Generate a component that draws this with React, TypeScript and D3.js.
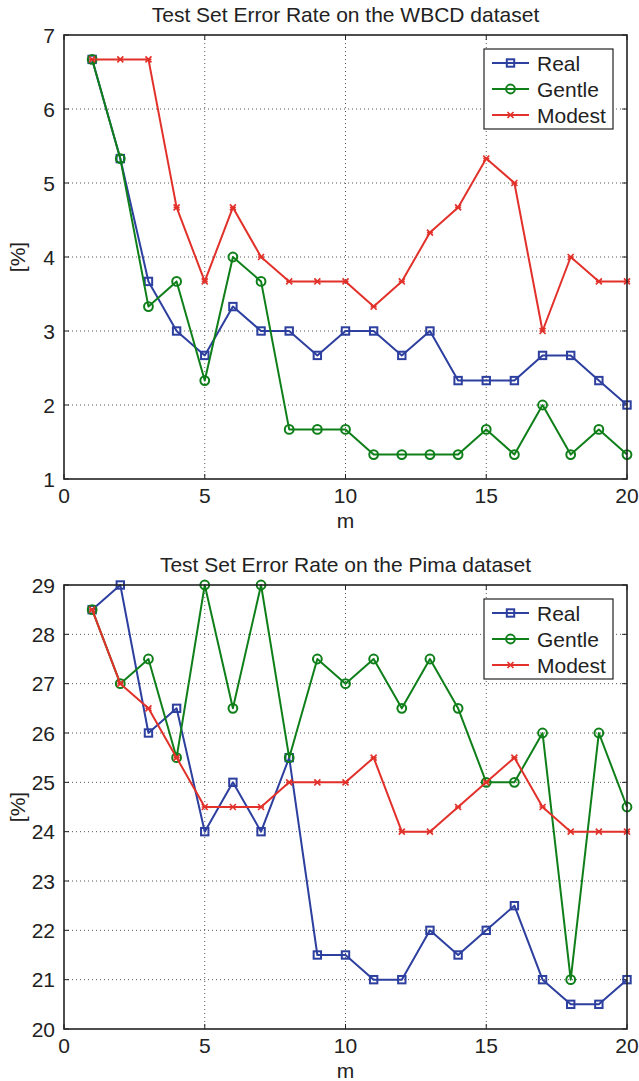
import React from "react";
import * as d3 from "d3";

const mValues = d3.range(1, 21);
const xTicks = [0, 5, 10, 15, 20];

const wbcdReal = [6.67, 5.33, 3.67, 3.0, 2.67, 3.33, 3.0, 3.0, 2.67, 3.0, 3.0, 2.67, 3.0, 2.33, 2.33, 2.33, 2.67, 2.67, 2.33, 2.0];
const wbcdGentle = [6.67, 5.33, 3.33, 3.67, 2.33, 4.0, 3.67, 1.67, 1.67, 1.67, 1.33, 1.33, 1.33, 1.33, 1.67, 1.33, 2.0, 1.33, 1.67, 1.33];
const wbcdModest = [6.67, 6.67, 6.67, 4.67, 3.67, 4.67, 4.0, 3.67, 3.67, 3.67, 3.33, 3.67, 4.33, 4.67, 5.33, 5.0, 3.0, 4.0, 3.67, 3.67];
const wbcdYTicks = [1, 2, 3, 4, 5, 6, 7];

const pimaReal = [28.5, 29, 26, 26.5, 24, 25, 24, 25.5, 21.5, 21.5, 21, 21, 22, 21.5, 22, 22.5, 21, 20.5, 20.5, 21];
const pimaGentle = [28.5, 27, 27.5, 25.5, 29, 26.5, 29, 25.5, 27.5, 27, 27.5, 26.5, 27.5, 26.5, 25, 25, 26, 21, 26, 24.5];
const pimaModest = [28.5, 27, 26.5, 25.5, 24.5, 24.5, 24.5, 25, 25, 25, 25.5, 24, 24, 24.5, 25, 25.5, 24.5, 24, 24, 24];
const pimaYTicks = [20, 21, 22, 23, 24, 25, 26, 27, 28, 29];

const seriesNames = ["Real", "Gentle", "Modest"];
const colors = ["#2d3f9f", "#0f7f1a", "#e2312a"];
const markers = ["square", "circle", "x"];

const FONT = "'Liberation Sans', Arial, Helvetica, sans-serif";
const FS = 21;

function Marker({ type, x, y, color }: { type: string; x: number; y: number; color: string }) {
  if (type === "square") {
    return <rect x={x - 3.7} y={y - 3.7} width={7.4} height={7.4} fill="none" stroke={color} strokeWidth={2} />;
  }
  if (type === "circle") {
    return <circle cx={x} cy={y} r={4.4} fill="none" stroke={color} strokeWidth={2} />;
  }
  const s = 3;
  return (
    <g stroke={color} strokeWidth={1.6}>
      <line x1={x - s} y1={y - s} x2={x + s} y2={y + s} />
      <line x1={x - s} y1={y + s} x2={x + s} y2={y - s} />
      <line x1={x - s} y1={y} x2={x + s} y2={y} />
    </g>
  );
}

function Panel({ top, title, yDomain, yTicks, data }: { top: number; title: string; yDomain: [number, number]; yTicks: number[]; data: number[][] }) {
  const left = 64, right = 627;
  const plotTop = top, plotBottom = top + 444;
  const x = d3.scaleLinear().domain([0, 20]).range([left, right]);
  const y = d3.scaleLinear().domain(yDomain).range([plotBottom, plotTop]);
  const line = d3.line<number>().x((_, i) => x(mValues[i])).y((d) => y(d));
  const lx = 484, ly = plotTop + 14, lw = 129, lh = 80;
  return (
    <g fontFamily={FONT}>
      <text x={345.5} y={plotTop - 13.5} textAnchor="middle" fontSize={FS} fill="#222">{title}</text>
      {/* grid */}
      {xTicks.slice(1, -1).map((t) => (
        <line key={"gx" + t} x1={x(t)} x2={x(t)} y1={plotTop} y2={plotBottom} stroke="#555" strokeWidth={1} strokeDasharray="1,3" />
      ))}
      {yTicks.slice(1, -1).map((t) => (
        <line key={"gy" + t} x1={left} x2={right} y1={y(t)} y2={y(t)} stroke="#555" strokeWidth={1} strokeDasharray="1,3" />
      ))}
      {/* ticks */}
      {xTicks.map((t) => (
        <g key={"tx" + t}>
          <line x1={x(t)} x2={x(t)} y1={plotBottom} y2={plotBottom - 5} stroke="#222" />
          <line x1={x(t)} x2={x(t)} y1={plotTop} y2={plotTop + 5} stroke="#222" />
          <text x={x(t)} y={plotBottom + 24} textAnchor="middle" fontSize={FS} fill="#222">{t}</text>
        </g>
      ))}
      {yTicks.map((t) => (
        <g key={"ty" + t}>
          <line x1={left} x2={left + 5} y1={y(t)} y2={y(t)} stroke="#222" />
          <line x1={right} x2={right - 5} y1={y(t)} y2={y(t)} stroke="#222" />
          <text x={left - 9} y={y(t) + 7.5} textAnchor="end" fontSize={FS} fill="#222">{t}</text>
        </g>
      ))}
      {/* series */}
      {data.map((vals, si) => (
        <g key={"s" + si}>
          <path d={line(vals) || ""} fill="none" stroke={colors[si]} strokeWidth={2} strokeLinejoin="round" />
          {vals.map((v, i) => (
            <Marker key={i} type={markers[si]} x={x(mValues[i])} y={y(v)} color={colors[si]} />
          ))}
        </g>
      ))}
      {/* frame */}
      <rect x={left} y={plotTop} width={right - left} height={plotBottom - plotTop} fill="none" stroke="#222" strokeWidth={1.6} />
      {/* axis labels */}
      <text x={(left + right) / 2} y={plotBottom + 48.5} textAnchor="middle" fontSize={FS} fill="#222">m</text>
      <text transform={`translate(25,${(plotTop + plotBottom) / 2}) rotate(-90)`} textAnchor="middle" fontSize={FS} fill="#222">[%]</text>
      {/* legend */}
      <rect x={lx} y={ly} width={lw} height={lh} fill="white" stroke="#222" strokeWidth={1.2} />
      {seriesNames.map((n, i) => {
        const yy = ly + 14 + i * 26;
        return (
          <g key={"l" + n}>
            <line x1={lx + 8} x2={lx + 45} y1={yy} y2={yy} stroke={colors[i]} strokeWidth={2} />
            <Marker type={markers[i]} x={lx + 26.5} y={yy} color={colors[i]} />
            <text x={lx + 53} y={yy + 7.5} fontSize={FS} fill="#222">{n}</text>
          </g>
        );
      })}
    </g>
  );
}

export default function App() {
  return (
    <svg width={639} height={1081} style={{ position: "absolute", left: 0, top: 0, background: "white" }}>
      <rect width={639} height={1081} fill="white" />
      <Panel top={35} title="Test Set Error Rate on the WBCD dataset" yDomain={[1, 7]} yTicks={wbcdYTicks} data={[wbcdReal, wbcdGentle, wbcdModest]} />
      <Panel top={585} title="Test Set Error Rate on the Pima dataset" yDomain={[20, 29]} yTicks={pimaYTicks} data={[pimaReal, pimaGentle, pimaModest]} />
    </svg>
  );
}
